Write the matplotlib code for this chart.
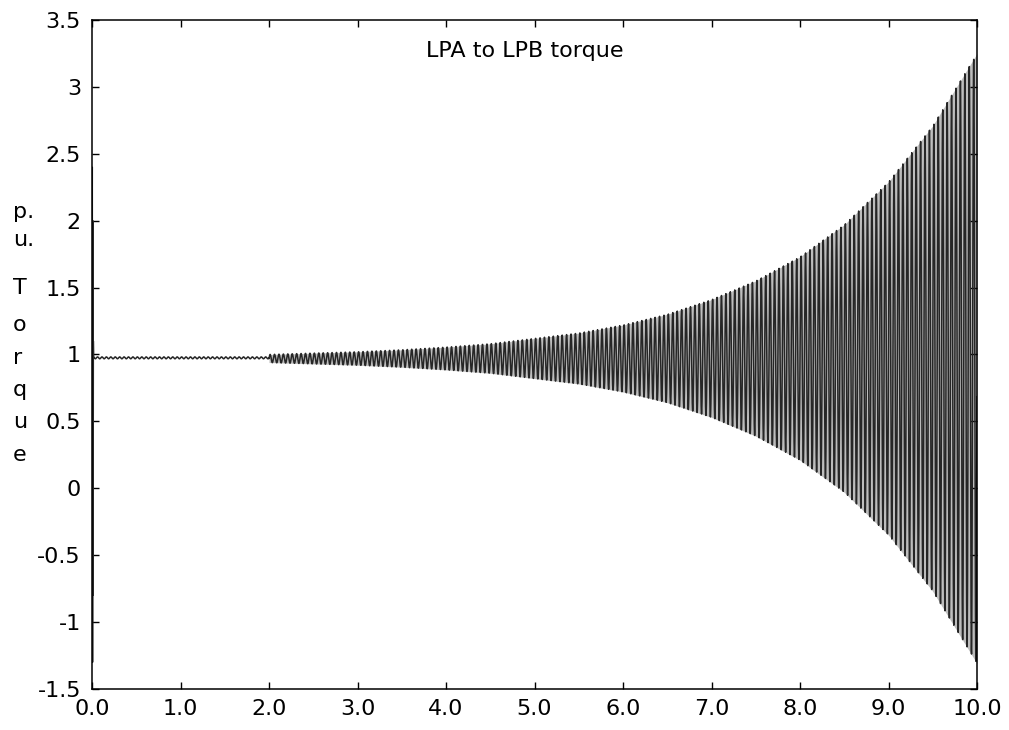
import numpy as np
import matplotlib
matplotlib.use("Agg")
import matplotlib.pyplot as plt

plt.rcParams['font.family'] = ['DejaVu Sans']
plt.rcParams['axes.unicode_minus'] = False

# ---------------- data ----------------
title = "LPA to LPB torque"
ylabel_lines = ["p.", "u.", "T", "o", "r", "q", "u", "e"]
ylabel_y_px = [212, 240, 288, 325, 358, 390, 422, 455]

xticks = [0, 1, 2, 3, 4, 5, 6, 7, 8, 9, 10]
xtick_labels = ["0.0", "1.0", "2.0", "3.0", "4.0", "5.0", "6.0", "7.0", "8.0", "9.0", "10.0"]
yticks = [-1.5, -1, -0.5, 0, 0.5, 1, 1.5, 2, 2.5, 3, 3.5]
ytick_labels = ["-1.5", "-1", "-0.5", "0", "0.5", "1", "1.5", "2", "2.5", "3", "3.5"]

# initial switching transient at t = 0 (s, p.u.)
init_t = [0.000, 0.003, 0.006, 0.009, 0.012, 0.015, 0.018]
init_val = [0.975, 2.40, -1.30, 2.00, -0.80, 1.10, 0.975]

# quiet period before the disturbance
pre_t = [0.02, 2.0]
pre_upper = [0.982, 0.982]
pre_lower = [0.968, 0.968]

# envelope of the growing torsional oscillation (s, p.u.)
env_t = [2.0, 2.5, 3.0, 3.5, 4.0, 4.5, 5.0, 5.5, 6.0, 6.5, 7.0, 7.5, 8.0, 8.5, 9.0, 9.5, 10.0]
env_upper = [1.00, 1.01, 1.02, 1.035, 1.055, 1.08, 1.12, 1.16, 1.22, 1.30, 1.41, 1.55, 1.73, 1.97, 2.29, 2.71, 3.25]
env_lower = [0.94, 0.93, 0.92, 0.905, 0.885, 0.86, 0.82, 0.78, 0.72, 0.64, 0.53, 0.39, 0.21, -0.03, -0.35, -0.77, -1.31]

carrier_hz = 20.0   # torsional mode frequency (stripe count)
sample_hz = 1000.0

# ---------------- build the trace ----------------
t = np.arange(pre_t[0], env_t[-1], 1.0 / sample_hz)
up = np.where(t < env_t[0], np.interp(t, pre_t, pre_upper), np.interp(t, env_t, env_upper))
lo = np.where(t < env_t[0], np.interp(t, pre_t, pre_lower), np.interp(t, env_t, env_lower))
mid = 0.5 * (up + lo)
half = 0.5 * (up - lo)
sig = mid + half * np.sin(2 * np.pi * carrier_hz * t)

tt = np.concatenate([init_t, t])
yy = np.concatenate([init_val, sig])

# ---------------- figure ----------------
W, H = 1009, 730
fig = plt.figure(figsize=(W / 100, H / 100), dpi=100)
L, R, T, B = 92, 977, 20, 689
ax = fig.add_axes([L / W, 1 - B / H, (R - L) / W, (B - T) / H])

# light grey shading between the dense strokes (as in the scanned original)
ax.fill_between(env_t, env_lower, env_upper, color='#bdbdbd', lw=0, zorder=1)
ax.plot(tt, yy, color='#262626', lw=1.1, zorder=2)

ax.set_xlim(0, 10)
ax.set_ylim(-1.5, 3.5)
ax.set_xticks(xticks)
ax.set_xticklabels(xtick_labels)
ax.set_yticks(yticks)
ax.set_yticklabels(ytick_labels)
ax.tick_params(direction='in', length=5, width=1, top=True, right=True,
               labelsize=16, colors='black')
ax.tick_params(axis='x', pad=7)
ax.tick_params(axis='y', pad=8)
for s in ax.spines.values():
    s.set_linewidth(1.1)
    s.set_color('black')
    s.set_zorder(3)

ax.text((525 - L) / (R - L), (B - 57) / (B - T), title, transform=ax.transAxes,
        ha='center', va='baseline', fontsize=16)

for txt, py in zip(ylabel_lines, ylabel_y_px):
    fig.text(13 / W, 1 - py / H, txt, ha='left', va='center', fontsize=16)

fig.savefig("out.png", dpi=100)
